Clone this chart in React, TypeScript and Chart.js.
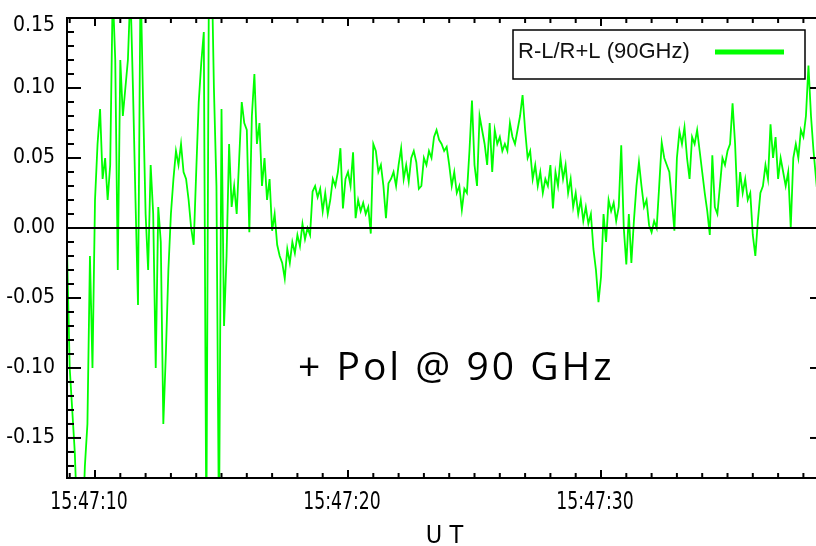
import React, { useEffect, useRef } from 'react';
import { Chart, registerables } from 'chart.js';

Chart.register(...registerables);

// ---- data ----
const START_SEC = 8.9; // seconds after 15:47:00 of first sample
const STEP_SEC = 0.1; // sample spacing (s)
const polValues: number[] = [
  -0.02, -0.10, -0.13, -0.16, -0.21, -0.23, -0.22, -0.17, -0.14, -0.02,
  -0.10, 0.02, 0.06, 0.085, 0.035, 0.05, 0.02, 0.045, 0.17, 0.12,
  -0.03, 0.12, 0.08, 0.10, 0.12, 0.17, 0.10, 0.02, -0.055, 0.18,
  0.09, 0.01, -0.03, 0.045, 0.01, -0.10, 0.015, -0.01, -0.14, -0.09,
  -0.03, 0.01, 0.035, 0.055, 0.045, 0.06, 0.04, 0.035, 0.02, 0.0,
  -0.012, 0.04, 0.09, 0.118, 0.14, -0.22, 0.17, 0.2, 0.10, 0.03,
  -0.22, 0.085, -0.07, -0.02, 0.06, 0.015, 0.03, 0.01, 0.05, 0.09,
  0.075, 0.07, -0.003, 0.08, 0.11, 0.06, 0.075, 0.03, 0.05, 0.02,
  0.035, -0.002, 0.01, -0.012, -0.02, -0.025, -0.036, -0.015, -0.025, -0.01,
  -0.018, -0.005, -0.013, 0.003, -0.008, 0.0, -0.005, 0.026, 0.03, 0.022,
  0.028, 0.012, 0.025, 0.01, 0.02, 0.035, 0.03, 0.04, 0.057, 0.014,
  0.035, 0.04, 0.03, 0.054, 0.007, 0.02, 0.012, 0.018, 0.01, 0.015,
  -0.004, 0.06, 0.055, 0.04, 0.045, 0.03, 0.007, 0.032, 0.035, 0.04,
  0.03, 0.045, 0.057, 0.035, 0.045, 0.033, 0.05, 0.055, 0.047, 0.028,
  0.03, 0.05, 0.045, 0.055, 0.05, 0.065, 0.07, 0.063, 0.06, 0.055,
  0.058, 0.045, 0.03, 0.04, 0.025, 0.03, 0.013, 0.028, 0.025, 0.055,
  0.091, 0.045, 0.03, 0.08, 0.07, 0.06, 0.045, 0.075, 0.04, 0.07,
  0.06, 0.065, 0.055, 0.06, 0.055, 0.075, 0.065, 0.06, 0.07, 0.08,
  0.095, 0.07, 0.05, 0.055, 0.035, 0.045, 0.03, 0.04, 0.025, 0.035,
  0.03, 0.045, 0.014, 0.04, 0.03, 0.05, 0.035, 0.045, 0.025, 0.035,
  0.015, 0.025, 0.01, 0.02, 0.005, 0.015, 0.003, 0.01, -0.015, -0.03,
  -0.053, -0.035, 0.01, -0.01, 0.02, 0.012, 0.018, 0.005, 0.015, 0.059,
  0.0, -0.026, 0.01, -0.025, 0.005, 0.03, 0.047, 0.03, 0.015, 0.02,
  0.002, -0.003, 0.005, 0.0, 0.03, 0.061, 0.05, 0.045, 0.04, 0.02,
  -0.002, 0.05, 0.069, 0.06, 0.072, 0.05, 0.035, 0.065, 0.06, 0.07,
  0.055, 0.04, 0.025, 0.012, -0.005, 0.052, 0.015, 0.01, 0.03, 0.05,
  0.045, 0.055, 0.06, 0.089, 0.06, 0.015, 0.04, 0.025, 0.035, 0.02,
  0.025, -0.005, -0.02, 0.005, 0.025, 0.03, 0.045, 0.035, 0.074, 0.05,
  0.065, 0.035, 0.05, 0.04, 0.03, 0.04, 0.0, 0.05, 0.06, 0.05,
  0.07, 0.065, 0.08, 0.116, 0.08, 0.055, 0.035, 0.05,
];

const timeTickSeconds = [10, 20, 30];
const timeTickLabels = ['15:47:10', '15:47:20', '15:47:30'];
const yTickValues = [0.15, 0.1, 0.05, 0, -0.05, -0.1, -0.15];
const yTickLabels = ['0.15', '0.10', '0.05', '0.00', '-0.05', '-0.10', '-0.15'];
const X_MIN = 8.893;
const X_MAX = 38.656;
const Y_MIN = -0.1786;
const Y_MAX = 0.15;
const seriesLabel = 'R-L/R+L (90GHz)';
const annotationText = '+ Pol @ 90 GHz';
const axisTitle = 'U T';

const GREEN = '#00ff00';
const NARROW = '"Liberation Sans Narrow", "DejaVu Sans Condensed", "Liberation Sans", sans-serif';

function seg(ctx: CanvasRenderingContext2D, x1: number, y1: number, x2: number, y2: number) {
  ctx.beginPath();
  ctx.moveTo(x1, y1);
  ctx.lineTo(x2, y2);
  ctx.stroke();
}

const decorPlugin = {
  id: 'decor',
  afterDatasetsDraw(chart: any) {
    const { ctx, chartArea: a, scales } = chart;
    const x = scales.x;
    const y = scales.y;
    ctx.save();
    ctx.strokeStyle = '#000';
    ctx.fillStyle = '#000';

    // zero line
    ctx.lineWidth = 2;
    const y0 = y.getPixelForValue(0);
    seg(ctx, a.left, y0, a.right, y0);

    // frame
    ctx.strokeRect(a.left, a.top, a.right - a.left, a.bottom - a.top);

    // y ticks (every 0.01, major every 0.05)
    for (let k = Math.ceil(Y_MIN * 100); k <= Math.floor(Y_MAX * 100); k++) {
      const py = y.getPixelForValue(k / 100);
      const major = k % 5 === 0;
      seg(ctx, a.left, py, a.left + (major ? 14 : 7), py);
      seg(ctx, a.right, py, a.right - (major ? 10 : 4), py);
    }
    // x ticks (every 1 s, major every 10 s)
    for (let s = Math.ceil(X_MIN); s <= Math.floor(X_MAX); s++) {
      const px = x.getPixelForValue(s);
      const major = s % 10 === 0;
      seg(ctx, px, a.top, px, a.top + (major ? 8 : 5));
      seg(ctx, px, a.bottom, px, a.bottom - (major ? 8 : 5));
    }

    // y labels
    ctx.font = `21px ${NARROW}`;
    ctx.textAlign = 'right';
    ctx.textBaseline = 'middle';
    yTickValues.forEach((v, i) => {
      let py = y.getPixelForValue(v);
      if (py < a.top + 8) py = a.top + 8;
      ctx.fillText(yTickLabels[i], a.left - 12, py);
    });

    // x labels (condensed)
    ctx.font = `24px ${NARROW}`;
    ctx.textAlign = 'center';
    ctx.textBaseline = 'middle';
    timeTickSeconds.forEach((s, i) => {
      const px = x.getPixelForValue(s) - 6;
      ctx.save();
      ctx.translate(px, a.bottom + 25);
      ctx.scale(0.8, 1);
      ctx.fillText(timeTickLabels[i], 0, 0);
      ctx.restore();
    });

    // axis title
    ctx.font = `25px ${NARROW}`;
    ctx.textBaseline = 'alphabetic';
    ctx.fillText(axisTitle, (a.left + a.right) / 2 + 1, a.bottom + 65);

    // annotation
    ctx.font = '39px "Open Sans", sans-serif';
    ctx.textAlign = 'left';
    (ctx as any).letterSpacing = '3px';
    ctx.fillText(annotationText, 298, 380);
    (ctx as any).letterSpacing = '0px';

    // legend
    const lx = 513, ly = 30, lw = 292, lh = 49;
    ctx.fillStyle = '#fff';
    ctx.fillRect(lx, ly, lw, lh);
    ctx.lineWidth = 1.5;
    ctx.strokeStyle = '#000';
    ctx.strokeRect(lx, ly, lw, lh);
    ctx.fillStyle = '#111';
    ctx.font = '22px "Liberation Sans", Arial, sans-serif';
    ctx.textAlign = 'left';
    ctx.textBaseline = 'middle';
    ctx.fillText(seriesLabel, lx + 5, ly + 22);
    ctx.strokeStyle = GREEN;
    ctx.lineWidth = 5;
    seg(ctx, 715, ly + 22, 784, ly + 22);

    ctx.restore();
  },
};

export default function App() {
  const canvasRef = useRef<HTMLCanvasElement | null>(null);

  useEffect(() => {
    const canvas = canvasRef.current;
    if (!canvas) return;
    const points = polValues.map((v, i) => ({ x: START_SEC + i * STEP_SEC, y: v }));
    const chart = new Chart(canvas, {
      type: 'line',
      data: {
        datasets: [
          {
            label: seriesLabel,
            data: points,
            borderColor: GREEN,
            borderWidth: 1.8,
            pointRadius: 0,
            tension: 0,
            fill: false,
          },
        ],
      },
      options: {
        animation: false,
        responsive: false,
        devicePixelRatio: 1,
        layout: { padding: { left: 67, top: 18, right: 2, bottom: 68 } },
        scales: {
          x: { type: 'linear', min: X_MIN, max: X_MAX, display: false },
          y: { type: 'linear', min: Y_MIN, max: Y_MAX, display: false },
        },
        plugins: {
          legend: { display: false },
          tooltip: { enabled: false },
        },
      },
      plugins: [decorPlugin],
    });
    return () => chart.destroy();
  }, []);

  return (
    <div
      style={{
        position: 'absolute',
        left: 0,
        top: 0,
        width: 816,
        height: 546,
        overflow: 'hidden',
        background: '#fff',
      }}
    >
      <canvas ref={canvasRef} width={822} height={546} style={{ display: 'block', width: 822, height: 546 }} />
    </div>
  );
}
